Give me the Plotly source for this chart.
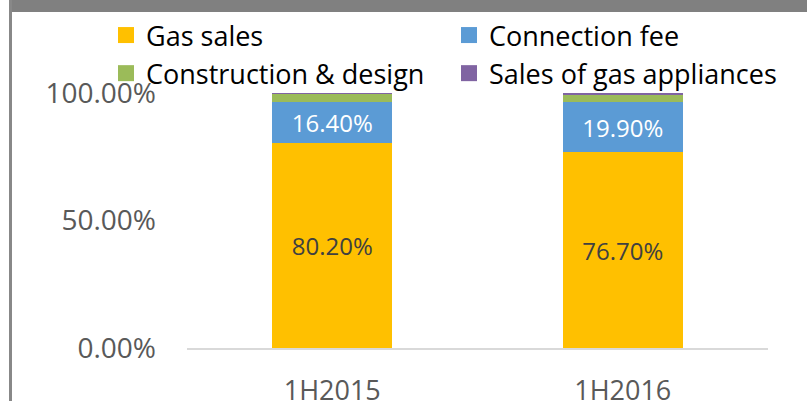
import plotly.graph_objects as go

categories = ["1H2015", "1H2016"]
gas_sales = [80.2, 76.7]
connection_fee = [16.4, 19.9]
construction_design = [3.3, 2.7]
gas_appliances = [0.1, 0.7]
y_tick_values = [0, 50, 100]
y_tick_labels = ["0.00%", "50.00%", "100.00%"]

series = [
    ("Gas sales", gas_sales, "#FFC000", "#404040", True),
    ("Connection fee", connection_fee, "#5B9BD5", "#FFFFFF", True),
    ("Construction & design", construction_design, "#9BBB59", None, False),
    ("Sales of gas appliances", gas_appliances, "#8064A2", None, False),
]

W, H = 807, 401
ML, MR, MT, MB = 187, 39, 93, 53
PW, PH = W - ML - MR, H - MT - MB
FONT = "Open Sans"

def px_x(x):
    return (x - ML) / PW

def px_y(y):
    return (H - MB - y) / PH

fig = go.Figure()
for name, vals, color, tcolor, show_text in series:
    fig.add_trace(go.Bar(
        x=categories, y=vals, name=name, marker_color=color,
        marker_line_width=0, showlegend=False,
        text=[f"{v:.2f}%" for v in vals] if show_text else None,
        textposition="inside" if show_text else "none",
        insidetextanchor="middle",
        textfont=dict(family=FONT, size=24, color=tcolor or "#000"),
        hoverinfo="x+y+name",
    ))
# legend entries
for name, vals, color, tcolor, show_text in series:
    fig.add_trace(go.Scatter(
        x=[None], y=[None], mode="markers", name=name,
        marker=dict(symbol="square", size=16, color=color),
        showlegend=True,
    ))

fig.update_layout(
    width=W, height=H,
    margin=dict(l=ML, r=MR, t=MT, b=MB, autoexpand=False),
    barmode="stack", bargap=0.587,
    plot_bgcolor="white", paper_bgcolor="white",
    font=dict(family=FONT, color="#595959"),
    legend=dict(
        orientation="h", xref="paper", yref="paper",
        x=px_x(106), xanchor="left", y=px_y(11), yanchor="top",
        entrywidth=298, entrywidthmode="pixels", traceorder="normal",
        font=dict(family=FONT, size=27, color="#000000"),
        bgcolor="rgba(0,0,0,0)", tracegroupgap=0, itemclick=False,
    ),
    xaxis=dict(
        showline=True, linecolor="#D9D9D9", linewidth=1.5,
        showgrid=False, ticks="", ticklabelstandoff=18,
        tickfont=dict(family=FONT, size=27, color="#595959"),
    ),
    yaxis=dict(
        range=[0, 100], tickvals=y_tick_values, ticktext=y_tick_labels,
        showgrid=False, zeroline=False, showline=False, ticks="",
        ticklabelstandoff=30,
        tickfont=dict(family=FONT, size=28, color="#595959"),
    ),
    shapes=[
        dict(type="rect", xref="paper", yref="paper",
             x0=px_x(9), x1=px_x(W), y0=px_y(0), y1=px_y(12),
             fillcolor="#808080", line_width=0, layer="above"),
        dict(type="rect", xref="paper", yref="paper",
             x0=px_x(9), x1=px_x(12), y0=px_y(0), y1=px_y(H),
             fillcolor="#888888", line_width=0, layer="above"),
    ],
)

fig.write_html(
    "out.html",
    config={"displayModeBar": False},
    post_script="document.body.style.margin='0';document.body.style.overflow='hidden';",
)
